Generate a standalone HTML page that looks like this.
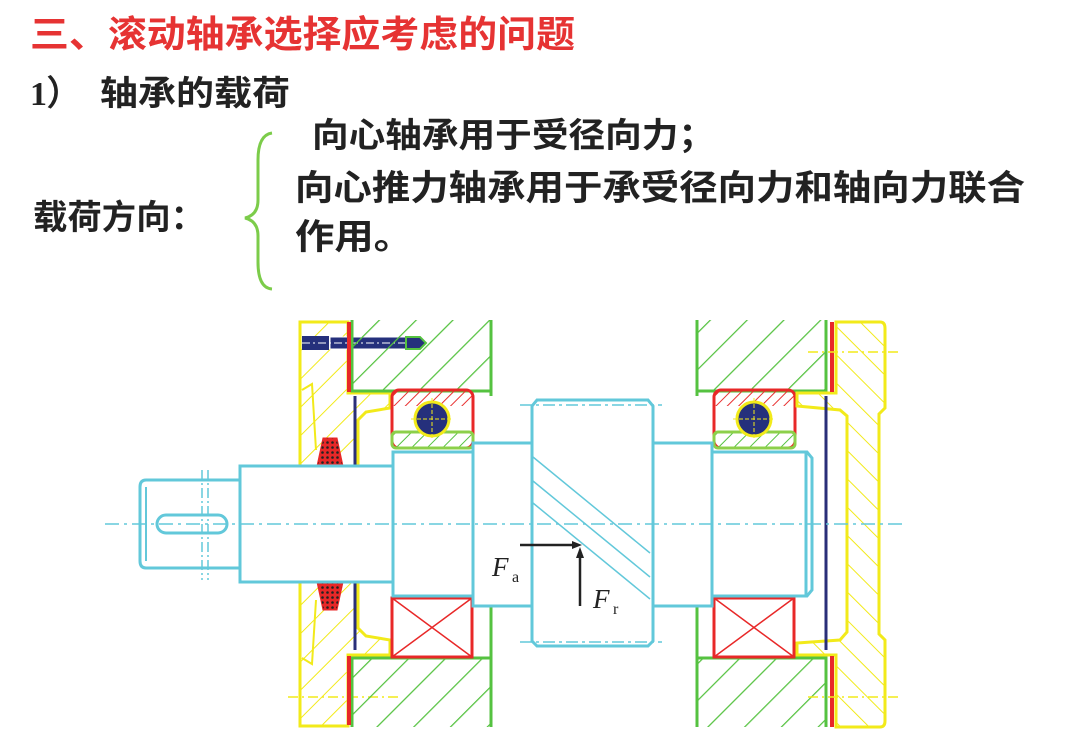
<!DOCTYPE html>
<html><head><meta charset="utf-8"><style>
html,body{margin:0;padding:0;background:#fff;}
svg{display:block}
.cj{font-family:"Liberation Sans","Noto Sans CJK SC",sans-serif;font-weight:bold;}
</style></head><body>
<svg width="1080" height="748" viewBox="0 0 1080 748" xmlns="http://www.w3.org/2000/svg">
<defs>
<pattern id="hg" patternUnits="userSpaceOnUse" width="26" height="26" patternTransform="rotate(45)"><line x1="0" y1="0" x2="0" y2="26" stroke="#55c240" stroke-width="2.5"/></pattern>
<pattern id="hg2" patternUnits="userSpaceOnUse" width="11" height="11" patternTransform="rotate(45)"><line x1="0" y1="0" x2="0" y2="11" stroke="#55c240" stroke-width="2"/></pattern>
<pattern id="hr" patternUnits="userSpaceOnUse" width="8" height="8" patternTransform="rotate(45)"><line x1="0" y1="0" x2="0" y2="8" stroke="#e83030" stroke-width="2"/></pattern>
<pattern id="hy" patternUnits="userSpaceOnUse" width="20" height="20" patternTransform="rotate(45)"><line x1="0" y1="0" x2="0" y2="20" stroke="#f2ea1a" stroke-width="2"/></pattern>
<pattern id="hy2" patternUnits="userSpaceOnUse" width="20" height="20" patternTransform="rotate(-45)"><line x1="0" y1="0" x2="0" y2="20" stroke="#f2ea1a" stroke-width="2"/></pattern>
<pattern id="dots" patternUnits="userSpaceOnUse" width="5" height="5"><rect width="5" height="5" fill="#e82828"/><circle cx="2.5" cy="2.5" r="1.3" fill="#222"/></pattern>
<g id="bearing">
 <rect x="0" y="390" width="81" height="16" fill="url(#hr)"/>
 <rect x="0" y="390" width="81" height="58" rx="7" fill="none" stroke="#e82828" stroke-width="3"/>
 <rect x="0" y="432" width="81" height="16" rx="4" fill="url(#hg2)" stroke="#8cd04a" stroke-width="3"/>
 <circle cx="40" cy="419" r="17" fill="#25307c" stroke="#f2ea1a" stroke-width="3"/>
 <line x1="19" y1="419" x2="61" y2="419" stroke="#f2ea1a" stroke-width="1" stroke-dasharray="4 2"/>
 <line x1="40" y1="398" x2="40" y2="440" stroke="#f2ea1a" stroke-width="1" stroke-dasharray="4 2"/>
 <rect x="0" y="598" width="80" height="59" fill="#fff" stroke="#e82828" stroke-width="3"/>
 <line x1="0" y1="598" x2="80" y2="657" stroke="#e82828" stroke-width="1.5"/>
 <line x1="80" y1="598" x2="0" y2="657" stroke="#e82828" stroke-width="1.5"/>
</g>
</defs>

<!-- Text -->
<text x="30" y="47" class="cj" font-size="37" fill="#e63333" textLength="545" lengthAdjust="spacingAndGlyphs">三、滚动轴承选择应考虑的问题</text>
<text x="30" y="105" font-family="Liberation Serif,serif" font-weight="bold" font-size="34" fill="#222">1）</text>
<text x="100" y="105" class="cj" font-size="34" fill="#222" textLength="190" lengthAdjust="spacingAndGlyphs">轴承的载荷</text>
<text x="312" y="147" class="cj" font-size="34" fill="#222" textLength="403" lengthAdjust="spacingAndGlyphs">向心轴承用于受径向力；</text>
<text x="295" y="200" class="cj" font-size="35" fill="#222" textLength="730" lengthAdjust="spacingAndGlyphs">向心推力轴承用于承受径向力和轴向力联合</text>
<text x="295" y="249" class="cj" font-size="35" fill="#222" textLength="118" lengthAdjust="spacingAndGlyphs">作用。</text>
<text x="33" y="229" class="cj" font-size="34" fill="#222" textLength="172" lengthAdjust="spacingAndGlyphs">载荷方向：</text>
<path d="M272,133 Q258,135 258,160 L258,200 Q258,215 245,218 Q258,221 258,236 L258,262 Q258,288 272,289" fill="none" stroke="#7ccc4a" stroke-width="3"/>

<!-- Left end cap (yellow) -->
<path d="M300,322 L348,322 L348,393 L390,393 L390,408 L366,412 L358,420 L358,466 L300,466 Z" fill="url(#hy)" stroke="#f2ea1a" stroke-width="3"/>
<path d="M300,726 L348,726 L348,655 L390,655 L390,640 L366,636 L358,628 L358,582 L300,582 Z" fill="url(#hy)" stroke="#f2ea1a" stroke-width="3"/>
<polyline points="302,390 312,384 316,450" fill="none" stroke="#f2ea1a" stroke-width="2"/>
<polyline points="302,658 312,664 316,600" fill="none" stroke="#f2ea1a" stroke-width="2"/>
<line x1="288" y1="697" x2="400" y2="697" stroke="#f2ea1a" stroke-width="1.5" stroke-dasharray="10 4 2 4"/>
<!-- seals -->
<path d="M323,438 L337,438 L343,466 L317,466 Z" fill="url(#dots)" stroke="#e82828" stroke-width="1"/>
<path d="M317,582 L343,582 L337,610 L323,610 Z" fill="url(#dots)" stroke="#e82828" stroke-width="1"/>
<!-- bolt -->
<rect x="302" y="336" width="27" height="14" fill="#25307c"/>
<rect x="330" y="337" width="76" height="12" fill="#25307c" stroke="#fff" stroke-width="1"/>
<line x1="302" y1="343" x2="410" y2="343" stroke="#fff" stroke-width="1" stroke-dasharray="8 3 2 3"/>
<path d="M406,337 L420,337 L426,343 L420,349 L406,349 Z" fill="#25307c" stroke="#55c240" stroke-width="2"/>

<!-- Left housing -->
<rect x="352" y="320" width="139" height="71" fill="url(#hg)"/>
<rect x="352" y="658" width="139" height="69" fill="url(#hg)"/>
<polyline points="352,320 352,391 491,391" fill="none" stroke="#55c240" stroke-width="3"/>
<polyline points="352,727 352,658 491,658" fill="none" stroke="#55c240" stroke-width="3"/>
<line x1="491" y1="320" x2="491" y2="396" stroke="#55c240" stroke-width="3"/>
<line x1="491" y1="606" x2="491" y2="727" stroke="#55c240" stroke-width="3"/>
<line x1="349" y1="322" x2="349" y2="392" stroke="#e82828" stroke-width="4"/>
<line x1="349" y1="656" x2="349" y2="725" stroke="#e82828" stroke-width="4"/>
<line x1="355" y1="396" x2="355" y2="650" stroke="#2a2f78" stroke-width="3"/>
<use href="#bearing" x="392"/>

<!-- Right housing -->
<rect x="697" y="320" width="129" height="71" fill="url(#hg)"/>
<rect x="697" y="658" width="129" height="69" fill="url(#hg)"/>
<polyline points="826,320 826,391 697,391" fill="none" stroke="#55c240" stroke-width="3"/>
<polyline points="826,727 826,658 697,658" fill="none" stroke="#55c240" stroke-width="3"/>
<line x1="697" y1="320" x2="697" y2="396" stroke="#55c240" stroke-width="3"/>
<line x1="697" y1="606" x2="697" y2="727" stroke="#55c240" stroke-width="3"/>
<use href="#bearing" x="714"/>

<!-- Right cap -->
<path d="M836,322 L880,322 Q885,322 885,328 L885,408 L879,414 L879,634 L885,640 L885,721 Q885,727 880,727 L836,727 L836,655 L797,655 L797,643 L840,640 L847,632 L847,416 L840,410 L797,406 L797,393 L836,393 Z" fill="url(#hy2)" stroke="#f2ea1a" stroke-width="3"/>
<line x1="832" y1="322" x2="832" y2="392" stroke="#e82828" stroke-width="4"/>
<line x1="832" y1="656" x2="832" y2="727" stroke="#e82828" stroke-width="4"/>
<line x1="826" y1="396" x2="826" y2="650" stroke="#2a2f78" stroke-width="3"/>
<line x1="808" y1="352" x2="900" y2="352" stroke="#f2ea1a" stroke-width="1.5" stroke-dasharray="10 4 2 4"/>
<line x1="808" y1="697" x2="900" y2="697" stroke="#f2ea1a" stroke-width="1.5" stroke-dasharray="10 4 2 4"/>

<!-- Shaft (cyan) -->
<g fill="#fff" stroke="#62c8da" stroke-width="3">
<path d="M240,480 L146,480 Q140,480 140,487 L140,561 Q140,568 146,568 L240,568"/>
<rect x="240" y="466" width="153" height="116"/>
<rect x="393" y="452" width="80" height="144"/>
<rect x="473" y="443" width="60" height="163"/>
<rect x="653" y="443" width="59" height="163"/>
<path d="M712,452 L807,452 L812,458 L812,590 L807,596 L712,596 Z"/>
<line x1="806" y1="452" x2="806" y2="596"/>
<path d="M537,400 L648,400 L653,406 L653,641 L648,646 L537,646 L532,641 L532,406 Z"/>
</g>
<line x1="146" y1="487" x2="146" y2="561" stroke="#62c8da" stroke-width="2"/>
<rect x="157" y="515" width="70" height="18" rx="9" fill="none" stroke="#62c8da" stroke-width="3"/>
<g stroke="#62c8da" stroke-width="1.5">
<line x1="533" y1="457" x2="650" y2="553"/>
<line x1="533" y1="481" x2="650" y2="577"/>
<line x1="533" y1="503" x2="650" y2="599"/>
</g>
<line x1="105" y1="524" x2="905" y2="524" stroke="#62c8da" stroke-width="1.5" stroke-dasharray="14 5 3 5"/>
<line x1="520" y1="405" x2="662" y2="405" stroke="#62c8da" stroke-width="1.5" stroke-dasharray="12 4 3 4"/>
<line x1="520" y1="642" x2="662" y2="642" stroke="#62c8da" stroke-width="1.5" stroke-dasharray="12 4 3 4"/>
<line x1="202" y1="470" x2="202" y2="580" stroke="#62c8da" stroke-width="1.5" stroke-dasharray="10 3 2 3"/>
<line x1="208" y1="470" x2="208" y2="580" stroke="#62c8da" stroke-width="1.5" stroke-dasharray="10 3 2 3"/>

<!-- Forces -->
<line x1="520" y1="545" x2="574" y2="545" stroke="#222" stroke-width="2.5"/>
<path d="M582,545 L572,541 L572,549 Z" fill="#222"/>
<line x1="580" y1="606" x2="580" y2="555" stroke="#222" stroke-width="2.5"/>
<path d="M580,547 L576,558 L584,558 Z" fill="#222"/>
<text x="492" y="576" font-family="Liberation Serif,serif" font-style="italic" font-size="27" fill="#222">F</text>
<text x="512" y="582" font-family="Liberation Serif,serif" font-size="16" fill="#222">a</text>
<text x="593" y="608" font-family="Liberation Serif,serif" font-style="italic" font-size="27" fill="#222">F</text>
<text x="613" y="614" font-family="Liberation Serif,serif" font-size="16" fill="#222">r</text>
</svg>
</body></html>
